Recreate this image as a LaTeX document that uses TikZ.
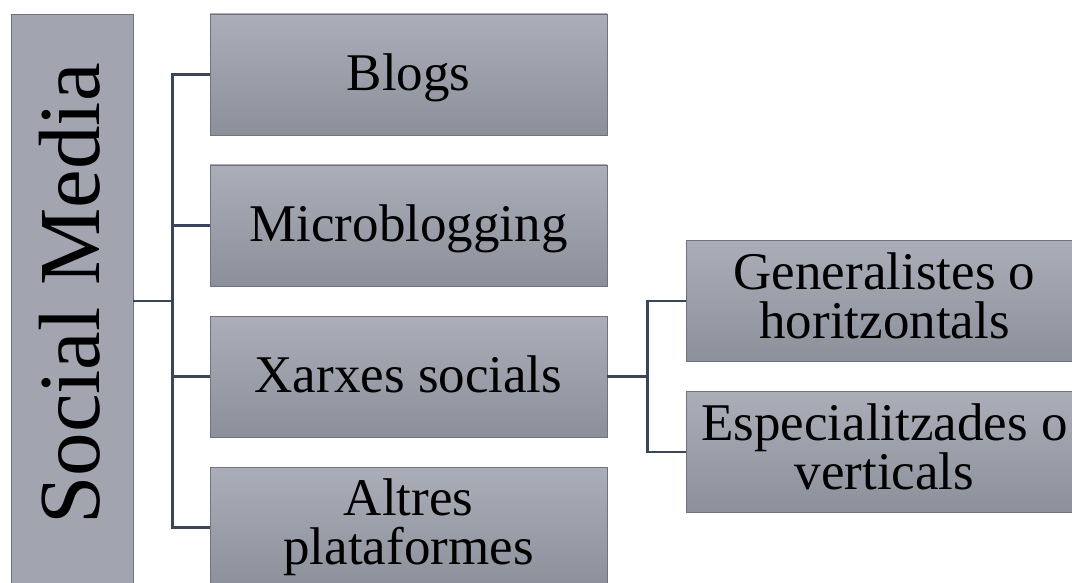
\documentclass[tikz,border=0pt]{standalone}
\usepackage{fontspec}
\setmainfont{Liberation Serif}
\definecolor{boxtop}{HTML}{ABAEB8}
\definecolor{boxbot}{HTML}{8B909B}
\definecolor{boxflat}{HTML}{A2A5AF}
\definecolor{boxline}{HTML}{6E737E}
\definecolor{connline}{HTML}{3A4658}
\newcommand\lowstrut{\vphantom{p}}
\tikzset{
  x=1pt, y=1pt,
  itembox/.style={draw=boxline, line width=0.8pt, top color=boxtop, bottom color=boxbot,
    minimum width=397pt, inner sep=0pt, align=center,
    font=\fontsize{53}{49}\selectfont, text=black},
  oneline/.style={itembox, minimum height=121pt, text height=35pt, text depth=3pt},
  twoline/.style={itembox, minimum height=121pt},
  rootbox/.style={draw=boxline, line width=0.8pt, fill=boxflat,
    minimum width=122pt, minimum height=574pt, inner sep=0pt, text=black},
  conn/.style={draw=connline, line width=2.2pt}
}
\begin{document}
\begin{tikzpicture}
  \useasboundingbox (0,0) rectangle (1072,-583);
  \clip (0,0) rectangle (1072,-583);
  % root
  \node[rootbox] (sm) at (72,-301) {};
  \node[rotate=90, font=\fontsize{87}{90}\selectfont] (smt) at (70,-294) {Social Media};
  % first level
  \node[oneline] (blogs)  at (408.5,-74.5)  {Blogs};
  \node[oneline] (micro)  at (408.5,-225.5) {Microblogging};
  \node[oneline] (xarxes) at (408.5,-376.5) {Xarxes socials};
  \node[twoline] (altres) at (408.5,-527.5) {Altres\\plataformes};
  % second level
  \node[twoline] (gen) at (884.5,-301) {Generalistes o\\horitzontals\lowstrut};
  \node[twoline] (esp) at (884.5,-452) {Especialitzades o\\verticals\lowstrut};
  % connectors from the root
  \draw[conn] (sm.east) -- ++(39,0) coordinate (j1);
  \draw[conn] (blogs.west) -- (blogs.west -| j1) -- (altres.west -| j1) -- (altres.west);
  \draw[conn] (micro.west -| j1) -- (micro.west);
  \draw[conn] (xarxes.west -| j1) -- (xarxes.west);
  % connectors from Xarxes socials
  \draw[conn] (xarxes.east) -- ++(40,0) coordinate (j2);
  \draw[conn] (gen.west) -- (gen.west -| j2) -- (esp.west -| j2) -- (esp.west);
\end{tikzpicture}
\end{document}
